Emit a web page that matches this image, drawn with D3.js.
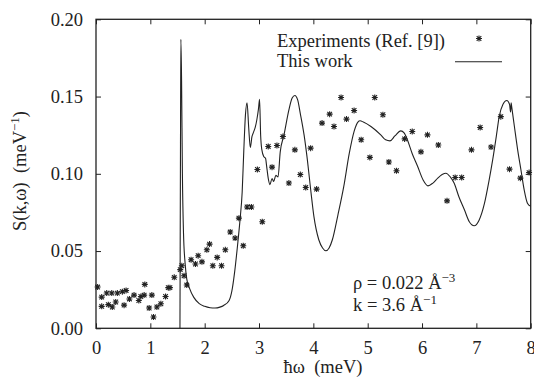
<!DOCTYPE html>
<meta charset="utf-8">
<style>
body { margin: 0; background: #fff; }
text { font-family: "Liberation Serif", "Times New Roman", serif; fill: #222; white-space: pre; }
.frame { fill: none; stroke: #222; stroke-width: 1.3; }
.tick line { stroke: #222; }
</style>
<body>
<script src="https://cdn.jsdelivr.net/npm/d3@7"></script>
<script>
// experiment points (Ref. [9])
var expX = [0.03,0.105,0.105,0.197,0.227,0.29,0.30,0.363,0.393,0.485,0.517,0.554,0.615,0.70,0.788,0.825,0.886,0.898,0.978,1.028,1.058,1.12,1.194,1.28,1.33,1.36,1.44,1.55,1.58,1.62,1.67,1.75,1.83,1.88,1.95,2.04,2.09,2.15,2.23,2.31,2.38,2.47,2.56,2.63,2.71,2.78,2.86,2.97,3.06,3.17,3.24,3.33,3.44,3.55,3.66,3.76,3.86,3.95,4.06,4.16,4.30,4.38,4.51,4.61,4.75,4.88,5.04,5.13,5.28,5.39,5.53,5.68,5.82,5.98,6.10,6.30,6.46,6.61,6.73,6.91,7.07,7.27,7.45,7.61,7.81,7.97];
var expY = [0.0267,0.0202,0.0142,0.0228,0.0153,0.0228,0.0138,0.017,0.0228,0.0237,0.015,0.0245,0.019,0.0215,0.018,0.0206,0.0215,0.0284,0.0131,0.0215,0.0073,0.0138,0.0159,0.0206,0.0263,0.0263,0.033,0.038,0.0405,0.034,0.028,0.0444,0.0416,0.047,0.043,0.0508,0.0545,0.0405,0.0459,0.0405,0.0508,0.0623,0.0584,0.0713,0.0534,0.0785,0.0785,0.1028,0.069,0.1177,0.1043,0.1183,0.1241,0.094,0.1155,0.0995,0.0911,0.1166,0.0901,0.1328,0.1386,0.1306,0.1494,0.1354,0.141,0.122,0.1106,0.1494,0.1382,0.1076,0.102,0.1226,0.1274,0.1142,0.1252,0.1186,0.0825,0.0976,0.0976,0.1155,0.13,0.1173,0.137,0.103,0.0972,0.1008];

// this work (theory curve)
var curveX = [1.545,1.555,1.562,1.575,1.59,1.61,1.64,1.67,1.72,1.80,1.90,2.00,2.10,2.19,2.28,2.35,2.45,2.50,2.55,2.60,2.65,2.69,2.72,2.75,2.78,2.81,2.84,2.87,2.90,2.93,2.96,2.99,3.01,3.03,3.05,3.09,3.12,3.14,3.17,3.20,3.24,3.27,3.31,3.35,3.39,3.46,3.55,3.61,3.66,3.71,3.76,3.83,3.89,3.95,4.01,4.10,4.17,4.23,4.29,4.35,4.45,4.56,4.66,4.75,4.82,4.86,4.92,5.06,5.24,5.33,5.41,5.50,5.61,5.67,5.73,5.82,5.92,6.02,6.11,6.20,6.29,6.37,6.44,6.52,6.59,6.68,6.78,6.87,6.96,7.05,7.15,7.23,7.30,7.37,7.42,7.49,7.56,7.61,7.63,7.64,7.65,7.70,7.76,7.82,7.88,7.94,8.0];
var curveY = [0.0,0.12,0.187,0.16,0.10,0.062,0.042,0.032,0.026,0.020,0.016,0.0142,0.0133,0.0131,0.0137,0.0148,0.018,0.024,0.036,0.052,0.070,0.088,0.115,0.138,0.146,0.13,0.117,0.124,0.127,0.13,0.135,0.142,0.1483,0.125,0.116,0.111,0.110,0.105,0.097,0.093,0.097,0.095,0.099,0.098,0.114,0.1252,0.1414,0.149,0.1507,0.148,0.139,0.125,0.109,0.090,0.0724,0.0573,0.052,0.0502,0.052,0.0573,0.073,0.0918,0.113,0.1275,0.1335,0.1343,0.1335,0.1306,0.1252,0.122,0.1213,0.1245,0.1278,0.1265,0.122,0.113,0.1047,0.096,0.0922,0.094,0.0972,0.0995,0.1004,0.098,0.094,0.085,0.0767,0.069,0.0664,0.070,0.081,0.095,0.109,0.125,0.137,0.145,0.1474,0.145,0.140,0.146,0.1435,0.1306,0.1155,0.1026,0.0896,0.081,0.079];

var xTicks = [0,1,2,3,4,5,6,7,8];
var yTicks = [0,0.05,0.10,0.15,0.20];

var margin = {top: 19.3, right: 3.3, bottom: 48.7, left: 96},
    width = 534 - margin.left - margin.right,
    height = 377 - margin.top - margin.bottom;

var x = d3.scaleLinear().domain([0, 8]).range([0, width]);
var y = d3.scaleLinear().domain([0, 0.2]).range([height, 0]);

var svg = d3.select("body").append("svg")
    .attr("width", 534)
    .attr("height", 377)
  .append("g")
    .attr("transform", "translate(" + margin.left + "," + margin.top + ")");

// axes, ticks inside on all four sides
var fs = "18.5px", sup = "13px";
svg.append("g")
    .attr("transform", "translate(0," + height + ")")
    .call(d3.axisBottom(x).tickValues(xTicks).tickFormat(d3.format("d")).tickSizeInner(-5).tickSizeOuter(0).tickPadding(13))
    .call(function(g) { g.select(".domain").remove(); g.selectAll("text").style("font-size", fs).style("font-family", "Liberation Serif"); });
svg.append("g")
    .call(d3.axisTop(x).tickValues(xTicks).tickFormat("").tickSizeInner(-5).tickSizeOuter(0))
    .call(function(g) { g.select(".domain").remove(); });
svg.append("g")
    .call(d3.axisLeft(y).tickValues(yTicks).tickFormat(d3.format(".2f")).tickSizeInner(-5).tickSizeOuter(0).tickPadding(13))
    .call(function(g) { g.select(".domain").remove(); g.selectAll("text").style("font-size", fs).style("font-family", "Liberation Serif"); });
svg.append("g")
    .attr("transform", "translate(" + width + ",0)")
    .call(d3.axisRight(y).tickValues(yTicks).tickFormat("").tickSizeInner(-5).tickSizeOuter(0))
    .call(function(g) { g.select(".domain").remove(); });

svg.append("rect")
    .attr("class", "frame")
    .attr("width", width)
    .attr("height", height);

// theory line
var line = d3.line()
    .x(function(d) { return x(d[0]); })
    .y(function(d) { return y(d[1]); })
    .curve(d3.curveMonotoneX);
svg.append("path")
    .datum(d3.zip(curveX, curveY))
    .attr("d", line)
    .attr("fill", "none")
    .attr("stroke", "#222")
    .attr("stroke-width", 1.1);

// asterisk marker
function star(cx, cy) {
  var r = 3, s = 2.3;
  return "M" + (cx - r) + "," + cy + "h" + (2 * r) +
         "M" + cx + "," + (cy - r) + "v" + (2 * r) +
         "M" + (cx - s) + "," + (cy - s) + "l" + (2 * s) + "," + (2 * s) +
         "M" + (cx - s) + "," + (cy + s) + "l" + (2 * s) + "," + (-2 * s);
}
svg.append("path")
    .attr("d", d3.zip(expX, expY).map(function(d) { return star(x(d[0]), y(d[1])); }).join(""))
    .attr("fill", "none")
    .attr("stroke", "#222")
    .attr("stroke-width", 1.1);

// legend
svg.append("text").attr("x", 277 - margin.left).attr("y", 46.7 - margin.top)
    .style("font-size", fs).text("Experiments (Ref. [9])");
svg.append("text").attr("x", 277 - margin.left).attr("y", 66.7 - margin.top)
    .style("font-size", fs).text("This work");
svg.append("path").attr("d", star(479 - margin.left, 38.5 - margin.top))
    .attr("fill", "none").attr("stroke", "#222").attr("stroke-width", 1.1);
svg.append("line")
    .attr("x1", 455 - margin.left).attr("x2", 502 - margin.left)
    .attr("y1", 61.7 - margin.top).attr("y2", 61.7 - margin.top)
    .attr("stroke", "#222").attr("stroke-width", 1.1);

// annotation
var t1 = svg.append("text").attr("x", 353 - margin.left).attr("y", 289 - margin.top).style("font-size", fs);
t1.append("tspan").text("\u03c1 = 0.022 \u00c5");
t1.append("tspan").attr("dy", -7).style("font-size", sup).text("\u22123");
var t2 = svg.append("text").attr("x", 353 - margin.left).attr("y", 311 - margin.top).style("font-size", fs);
t2.append("tspan").text("k = 3.6 \u00c5");
t2.append("tspan").attr("dy", -7).style("font-size", sup).text("\u22121");

// axis titles
svg.append("text")
    .attr("x", 323 - margin.left).attr("y", 373 - margin.top)
    .attr("text-anchor", "middle").style("font-size", fs)
    .text("\u0127\u03c9  (meV)");
var yt = svg.append("text")
    .attr("transform", "translate(" + (26 - margin.left) + "," + (171 - margin.top) + ") rotate(-90)")
    .attr("text-anchor", "middle").style("font-size", fs);
yt.append("tspan").text("S(k,\u03c9)  (meV");
yt.append("tspan").attr("dy", -7).style("font-size", sup).text("\u22121");
yt.append("tspan").attr("dy", 7).text(")");
</script>
</body>
